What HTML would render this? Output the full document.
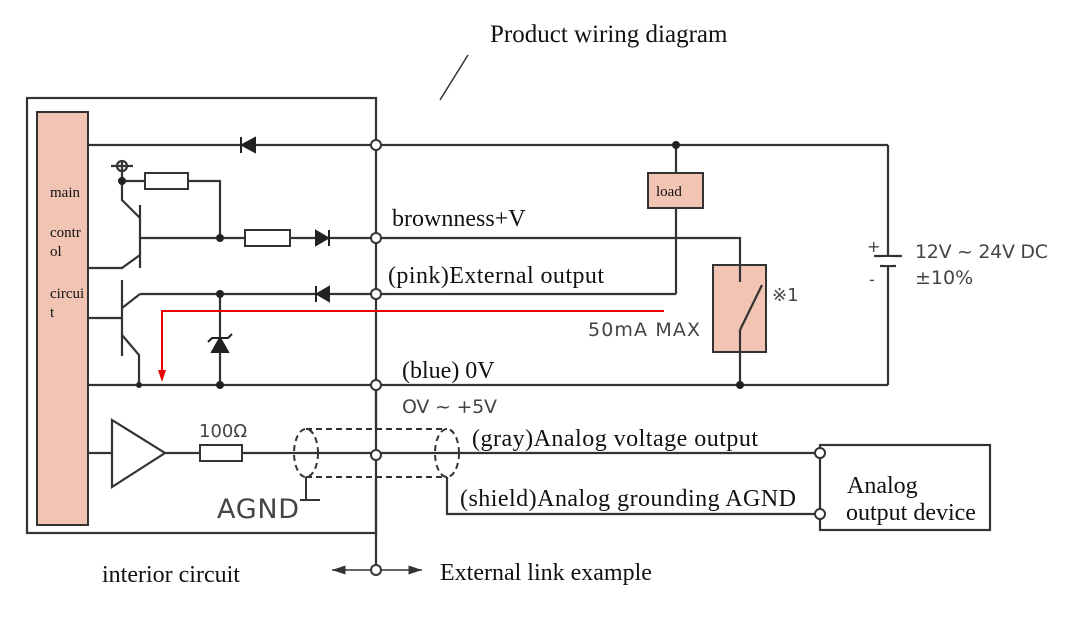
<!DOCTYPE html>
<html><head><style>
body{margin:0;background:#fff}
svg text{font-family:"Liberation Serif",serif;fill:#111}
.s{font-family:"DejaVu Sans","Liberation Sans",sans-serif !important;fill:#444 !important}
</style></head><body>
<svg width="1091" height="621" viewBox="0 0 1091 621" xmlns="http://www.w3.org/2000/svg">
<defs><marker id="a" markerWidth="10" markerHeight="8" refX="9" refY="4" orient="auto"><path d="M0,1 L9,4 L0,7 Z" fill="#333"/></marker></defs>
<g stroke="#333" stroke-width="2.2" fill="none">
<rect x="27" y="98" width="349" height="435"/>
<line x1="376" y1="533" x2="376" y2="565"/>
<line x1="468" y1="55" x2="440" y2="100" stroke-width="1.5"/>
<line x1="88" y1="145" x2="888" y2="145"/>
<line x1="888" y1="145" x2="888" y2="385"/>
<line x1="88" y1="385" x2="888" y2="385"/>
<line x1="676" y1="145" x2="676" y2="294"/>
<line x1="376" y1="294" x2="676" y2="294"/>
<polyline points="376,238 740,238 740,280"/>
<polyline points="740,325 740,385"/>
<polyline points="122,160 122,200 140,218"/>
<line x1="140" y1="205" x2="140" y2="268"/>
<polyline points="140,255 122,268 88,268"/>
<line x1="140" y1="238" x2="376" y2="238"/>
<polyline points="122,181 220,181 220,238"/>
<circle cx="122" cy="166" r="5"/><line x1="111" y1="166" x2="133" y2="166"/>
<line x1="122" y1="280" x2="122" y2="356"/>
<polyline points="140,294 122,308"/>
<line x1="140" y1="294" x2="376" y2="294"/>
<line x1="88" y1="318" x2="122" y2="318"/>
<polyline points="122,335 139,355 139,385"/>
<line x1="220" y1="294" x2="220" y2="385"/>
<line x1="88" y1="453" x2="112" y2="453"/>
<polygon points="112,420 165,453 112,487"/>
<line x1="165" y1="453" x2="820" y2="453"/>
<polyline points="447,477 447,514 820,514"/>
<line x1="376" y1="385" x2="376" y2="429"/>
<line x1="376" y1="477" x2="376" y2="533"/>
<rect x="820" y="445" width="170" height="85"/>
<line x1="376" y1="570" x2="332" y2="570" marker-end="url(#a)" stroke-width="1.5"/>
<line x1="376" y1="570" x2="422" y2="570" marker-end="url(#a)" stroke-width="1.5"/>
</g>
<rect x="37" y="112" width="51" height="413" fill="#f2c4b4" stroke="#333" stroke-width="2"/>
<rect x="648" y="173" width="55" height="35" fill="#f2c4b4" stroke="#333" stroke-width="2"/>
<rect x="713" y="265" width="53" height="87" fill="#f2c4b4" stroke="#333" stroke-width="2"/>
<g stroke="#333" stroke-width="2.2"><line x1="740" y1="265" x2="740" y2="282"/><line x1="740" y1="330" x2="740" y2="352"/><line x1="740" y1="330" x2="762" y2="285"/></g>
<g fill="#fff" stroke="#333" stroke-width="2">
<rect x="145" y="173" width="43" height="16"/>
<rect x="245" y="230" width="45" height="16"/>
<rect x="200" y="445" width="42" height="16"/>
</g>
<g fill="#222" stroke="#222" stroke-width="2">
<polygon points="255,138 255,152 242,145"/><line x1="241" y1="137" x2="241" y2="153"/>
<polygon points="316,231 316,245 328,238"/><line x1="329" y1="230" x2="329" y2="246"/>
<polygon points="329,287 329,301 317,294"/><line x1="316" y1="286" x2="316" y2="302"/>
<polygon points="212,352 228,352 220,338"/><polyline points="208,342 212,338 228,338 232,334" fill="none"/>
</g>
<g stroke="#333" stroke-width="2.2"><line x1="874" y1="256" x2="902" y2="256"/><line x1="880" y1="266" x2="896" y2="266"/></g>
<rect x="884" y="257" width="8" height="8" fill="#fff"/>
<g stroke="#333" stroke-width="2" fill="none" stroke-dasharray="6,4">
<ellipse cx="306" cy="453" rx="12" ry="24"/><ellipse cx="447" cy="453" rx="12" ry="24"/>
<line x1="306" y1="429" x2="447" y2="429"/><line x1="306" y1="477" x2="447" y2="477"/>
</g>
<g stroke="#333" stroke-width="2" fill="none"><line x1="306" y1="477" x2="306" y2="500"/><line x1="300" y1="500" x2="320" y2="500"/></g>
<polyline points="664,311 162,311 162,372" fill="none" stroke="#e00" stroke-width="2"/>
<polygon points="158,370 166,370 162,382" fill="#e00"/>
<g fill="#222"><circle cx="122" cy="181" r="4"/><circle cx="220" cy="238" r="4"/><circle cx="220" cy="294" r="4"/><circle cx="220" cy="385" r="4"/><circle cx="139" cy="385" r="3"/><circle cx="676" cy="145" r="4"/><circle cx="740" cy="385" r="4"/></g>
<g fill="#fff" stroke="#333" stroke-width="2"><circle cx="376" cy="145" r="5"/><circle cx="376" cy="238" r="5"/><circle cx="376" cy="294" r="5"/><circle cx="376" cy="385" r="5"/><circle cx="376" cy="455" r="5"/><circle cx="820" cy="453" r="5"/><circle cx="820" cy="514" r="5"/><circle cx="376" cy="570" r="5"/></g>
<text x="490" y="42" font-size="25">Product wiring diagram</text>
<text x="50" y="197" font-size="15">main</text>
<text x="50" y="237" font-size="15">contr</text><text x="50" y="256" font-size="15">ol</text>
<text x="50" y="298" font-size="15">circui</text><text x="50" y="317" font-size="15">t</text>
<text x="656" y="196" font-size="15">load</text>
<text x="392" y="226" font-size="24">brownness+V</text>
<text x="388" y="283" font-size="24" textLength="216">(pink)External output</text>
<text x="402" y="378" font-size="24">(blue) 0V</text>
<text x="472" y="446" font-size="24" textLength="286">(gray)Analog voltage output</text>
<text x="460" y="506" font-size="24" textLength="336">(shield)Analog grounding AGND</text>
<text x="847" y="493" font-size="24">Analog</text>
<text x="846" y="520" font-size="24">output device</text>
<text x="102" y="582" font-size="24">interior circuit</text>
<text x="440" y="580" font-size="24">External link example</text>
<text class="s" x="588" y="336" font-size="19" textLength="112">50mA MAX</text>
<text class="s" x="772" y="301" font-size="18">※1</text>
<text class="s" x="915" y="258" font-size="19" textLength="133">12V ~ 24V DC</text>
<text class="s" x="915" y="284" font-size="19">±10%</text>
<text class="s" x="867" y="252" font-size="16">+</text>
<text class="s" x="869" y="285" font-size="16">-</text>
<text class="s" x="402" y="413" font-size="19" textLength="95">OV ~ +5V</text>
<text class="s" x="199" y="437" font-size="18">100Ω</text>
<text class="s" x="217" y="518" font-size="27" textLength="82">AGND</text>
</svg>
</body></html>
